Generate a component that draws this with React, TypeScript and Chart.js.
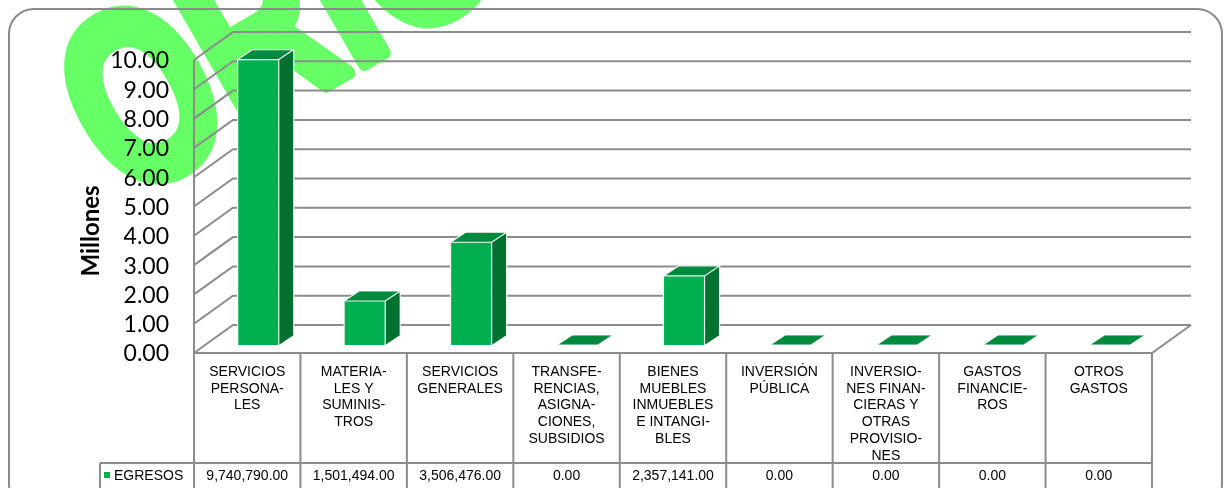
import React, { useEffect, useRef } from 'react';
import { Chart, registerables } from 'chart.js';

Chart.register(...registerables);

// ---------- data ----------
const categories: string[][] = [
  ['SERVICIOS', 'PERSONA-', 'LES'],
  ['MATERIA-', 'LES Y', 'SUMINIS-', 'TROS'],
  ['SERVICIOS', 'GENERALES'],
  ['TRANSFE-', 'RENCIAS,', 'ASIGNA-', 'CIONES,', 'SUBSIDIOS'],
  ['BIENES', 'MUEBLES', 'INMUEBLES', 'E INTANGI-', 'BLES'],
  ['INVERSIÓN', 'PÚBLICA'],
  ['INVERSIO-', 'NES FINAN-', 'CIERAS Y', 'OTRAS', 'PROVISIO-', 'NES'],
  ['GASTOS', 'FINANCIE-', 'ROS'],
  ['OTROS', 'GASTOS'],
];
const seriesName = 'EGRESOS';
const egresos: number[] = [9740790, 1501494, 3506476, 0, 2357141, 0, 0, 0, 0];
const yTicks: number[] = [0, 1, 2, 3, 4, 5, 6, 7, 8, 9, 10];
const axisTitle = 'Millones';
const watermark = 'ORIGINAL';

// ---------- style ----------
const W = 1230;
const H = 488;
const GRID = '#8c8c8c';
const FRONT = '#00B050';
const SIDE = '#00712F';
const TOP = '#008A3E';
const F = { dx: -11, dy: 8 }; // front plane relative to bar plane
const B = { dx: 28, dy: -20 }; // back wall relative to bar plane
const D = { dx: 15, dy: -10 }; // bar depth

const fmt = (v: number) =>
  v.toLocaleString('en-US', { minimumFractionDigits: 2, maximumFractionDigits: 2 });

const backgroundPlugin = {
  id: 'bgWatermark',
  beforeDraw(chart: any) {
    const ctx = chart.ctx as CanvasRenderingContext2D;
    ctx.save();
    ctx.fillStyle = '#ffffff';
    ctx.fillRect(0, 0, W, H);
    ctx.translate(124, 202);
    ctx.rotate((-30 * Math.PI) / 180);
    ctx.scale(0.88, 1.22);
    ctx.font = 'bold 200px "Liberation Sans"';
    ctx.fillStyle = '#66FF66';
    ctx.strokeStyle = '#66FF66';
    ctx.lineWidth = 12;
    ctx.lineJoin = 'round';
    ctx.textBaseline = 'alphabetic';
    ctx.fillText(watermark, 0, 0);
    ctx.strokeText(watermark, 0, 0);
    ctx.restore();

    ctx.save();
    ctx.strokeStyle = '#8a8a8a';
    ctx.lineWidth = 2;
    ctx.beginPath();
    (ctx as any).roundRect(9, 9, 1213, 500, 25);
    ctx.stroke();
    ctx.restore();
  },
};

const wallsPlugin = {
  id: 'walls3d',
  beforeDatasetsDraw(chart: any) {
    const ctx = chart.ctx as CanvasRenderingContext2D;
    const { left, right } = chart.chartArea;
    const ys = chart.scales.y;
    ctx.save();
    ctx.strokeStyle = GRID;
    ctx.lineWidth = 2;
    ctx.lineJoin = 'miter';
    for (const v of yTicks) {
      const yb = ys.getPixelForValue(v);
      ctx.beginPath();
      ctx.moveTo(left + F.dx, yb + F.dy);
      ctx.lineTo(left + B.dx, yb + B.dy);
      ctx.lineTo(right + B.dx, yb + B.dy);
      ctx.stroke();
    }
    const y0 = ys.getPixelForValue(0);
    const yTop = ys.getPixelForValue(yTicks[yTicks.length - 1]);
    ctx.beginPath();
    ctx.moveTo(left + F.dx, yTop + F.dy);
    ctx.lineTo(left + F.dx, y0 + F.dy);
    ctx.lineTo(right + F.dx, y0 + F.dy);
    ctx.lineTo(right + B.dx, y0 + B.dy);
    ctx.stroke();

    // tick labels
    ctx.fillStyle = '#000';
    ctx.font = '23px Lato';
    ctx.textAlign = 'right';
    ctx.textBaseline = 'middle';
    for (const v of yTicks) {
      ctx.fillText(v.toFixed(2), 169, ys.getPixelForValue(v) + F.dy + 1);
    }
    // axis title
    ctx.save();
    ctx.translate(91, 231);
    ctx.rotate(-Math.PI / 2);
    ctx.font = 'bold 24px Lato';
    ctx.textAlign = 'center';
    ctx.textBaseline = 'middle';
    ctx.fillText(axisTitle, 0, 0);
    ctx.restore();
    ctx.restore();
  },
  afterDatasetsDraw(chart: any) {
    const ctx = chart.ctx as CanvasRenderingContext2D;
    const meta = chart.getDatasetMeta(0);
    ctx.save();
    meta.data.forEach((el: any) => {
      const { x, y, base, width } = el.getProps(['x', 'y', 'base', 'width'], true);
      const l = x - width / 2;
      const r = x + width / 2;
      // side
      ctx.fillStyle = SIDE;
      ctx.beginPath();
      ctx.moveTo(r, y);
      ctx.lineTo(r + D.dx, y + D.dy);
      ctx.lineTo(r + D.dx, base + D.dy);
      ctx.lineTo(r, base);
      ctx.closePath();
      ctx.fill();
      // top
      ctx.fillStyle = TOP;
      ctx.beginPath();
      ctx.moveTo(l, y);
      ctx.lineTo(r, y);
      ctx.lineTo(r + D.dx, y + D.dy);
      ctx.lineTo(l + D.dx, y + D.dy);
      ctx.closePath();
      ctx.fill();
      // outlines
      ctx.strokeStyle = 'rgba(255,255,255,0.9)';
      ctx.lineWidth = 1.2;
      ctx.beginPath();
      ctx.moveTo(l, base);
      ctx.lineTo(l, y);
      ctx.lineTo(r, y);
      ctx.lineTo(r, base);
      ctx.moveTo(l, y);
      ctx.lineTo(l + D.dx, y + D.dy);
      ctx.lineTo(r + D.dx, y + D.dy);
      ctx.lineTo(r, y);
      ctx.moveTo(r + D.dx, y + D.dy);
      ctx.lineTo(r + D.dx, base + D.dy);
      ctx.stroke();
    });
    ctx.restore();
  },
  afterDraw(chart: any) {
    const ctx = chart.ctx as CanvasRenderingContext2D;
    const { left, right } = chart.chartArea;
    const ys = chart.scales.y;
    const xs = chart.scales.x;
    const n = categories.length;
    const cw = (right - left) / n;
    const tl = left + F.dx;
    const tr = right + F.dx;
    const top = ys.getPixelForValue(0) + F.dy;
    const rowY = 463;
    const bot = H + 4;
    ctx.save();
    ctx.strokeStyle = GRID;
    ctx.lineWidth = 2;
    ctx.beginPath();
    for (let i = 0; i <= n; i++) {
      const xx = tl + i * cw;
      ctx.moveTo(xx, top);
      ctx.lineTo(xx, bot);
    }
    ctx.moveTo(100, rowY);
    ctx.lineTo(tr, rowY);
    ctx.moveTo(100, rowY);
    ctx.lineTo(100, bot);
    ctx.stroke();

    ctx.fillStyle = '#000';
    ctx.font = '14px "Liberation Sans"';
    ctx.textAlign = 'center';
    ctx.textBaseline = 'middle';
    categories.forEach((lines, i) => {
      const cx = xs.getPixelForValue(i) + F.dx;
      lines.forEach((t, k) => ctx.fillText(t, cx, 372 + k * 16.8));
      ctx.fillText(fmt(egresos[i]), cx, 476);
    });
    // legend key
    ctx.fillStyle = FRONT;
    ctx.fillRect(104, 472, 6, 6);
    ctx.fillStyle = '#000';
    ctx.textAlign = 'left';
    ctx.fillText(seriesName, 114, 476);
    ctx.restore();
  },
};

export default function App() {
  const ref = useRef<HTMLCanvasElement | null>(null);
  useEffect(() => {
    if (!ref.current) return;
    const chart = new Chart(ref.current, {
      type: 'bar',
      data: {
        labels: categories,
        datasets: [
          {
            label: seriesName,
            data: egresos.map((v) => v / 1e6),
            backgroundColor: FRONT,
            borderWidth: 0,
            barPercentage: 0.386,
            categoryPercentage: 1,
          },
        ],
      },
      options: {
        responsive: false,
        animation: false,
        devicePixelRatio: 1,
        layout: { padding: { left: 205, right: 67, top: 52, bottom: 143 } },
        plugins: { legend: { display: false }, tooltip: { enabled: false } },
        scales: {
          x: { display: false, grid: { display: false } },
          y: { display: false, min: 0, max: 10, ticks: { stepSize: 1 }, grid: { display: false } },
        },
      },
      plugins: [backgroundPlugin, wallsPlugin],
    });
    return () => chart.destroy();
  }, []);
  return (
    <div style={{ position: 'fixed', left: 0, top: 0, width: W, height: H }}>
      <canvas ref={ref} width={W} height={H} style={{ display: 'block', width: W, height: H }} />
    </div>
  );
}
